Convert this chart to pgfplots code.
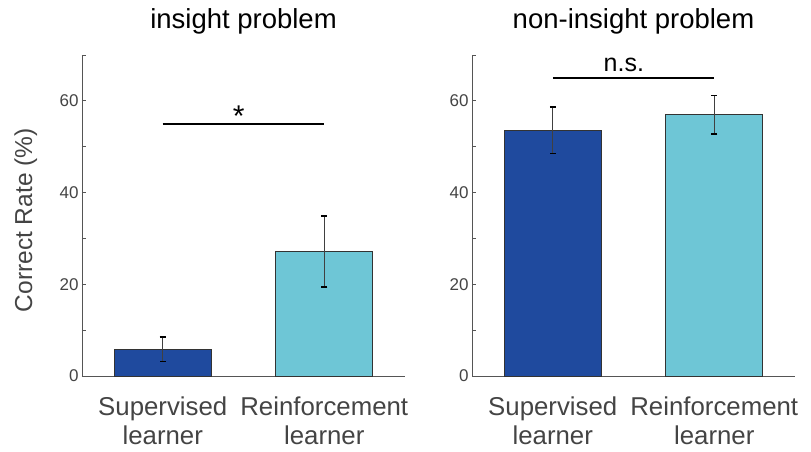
\documentclass[border=0pt]{standalone}
\usepackage{pgfplots}
\pgfplotsset{compat=1.18}
\usepackage{fontspec}
\setmainfont{Liberation Sans}
\definecolor{dblue}{HTML}{1F4A9E}
\definecolor{lblue}{HTML}{6EC6D6}
\definecolor{axgray}{HTML}{555555}
\definecolor{txtgray}{HTML}{444444}
\pgfplotsset{
  panel/.style={
    scale only axis, width=323pt, height=321pt,
    xmin=-0.5, xmax=1.5, ymin=0, ymax=70,
    axis lines=left, axis line style={-, axgray, line width=0.8pt},
    ytick={0,20,40,60}, minor ytick={10,30,50,70},
    tick align=inside, major tick length=4pt, minor tick length=4pt,
    every tick/.style={axgray, line width=0.8pt},
    xtick={0,1}, xticklabels={Supervised\\learner, Reinforcement\\learner},
    x tick style={draw=none},
    xticklabel style={align=center, font=\fontsize{25.8}{29}\selectfont, text=txtgray, yshift=-13pt},
    yticklabel style={font=\fontsize{17}{18}\selectfont, text=txtgray},
    /pgf/number format/assume math mode=true,
    ybar, bar width=0.6, bar shift=0pt,
    clip=false,
    title style={at={(0.5,1)}, anchor=base, yshift=21pt, font=\fontsize{27.5}{30}\selectfont},
    error bars/y dir=both, error bars/y explicit,
    error bars/error bar style={line width=0.9pt, black!75},
    error bars/error mark options={rotate=90, mark size=3pt, line width=1.6pt, black},
  }
}
\begin{document}
\begin{tikzpicture}
\begin{axis}[panel, title={insight problem},
  ylabel={Correct Rate (\%)},
  ylabel style={at={(axis description cs:-0.174,0.485)}, anchor=center, font=\fontsize{24.5}{28}\selectfont, text=txtgray}]
\addplot[fill=dblue, draw=black!80, line width=0.9pt] coordinates {(0,5.8) +- (0,2.65)};
\addplot[fill=lblue, draw=black!80, line width=0.9pt] coordinates {(1,27.2) +- (0,7.75)};
\addplot[sharp plot, black, line width=1.8pt, no marks, forget plot] coordinates {(0,54.9) (1,54.9)};
\node[font=\fontsize{30}{32}\selectfont, anchor=center] at (axis cs:0.47,56.6) {*};
\end{axis}
\begin{axis}[panel, xshift=390pt, title={non-insight problem}]
\addplot[fill=dblue, draw=black!80, line width=0.9pt] coordinates {(0,53.6) +- (0,5.1)};
\addplot[fill=lblue, draw=black!80, line width=0.9pt] coordinates {(1,57.0) +- (0,4.2)};
\addplot[sharp plot, black, line width=1.8pt, no marks, forget plot] coordinates {(0,64.9) (1,64.9)};
\node[font=\fontsize{25}{28}\selectfont, anchor=base] at (axis cs:0.44,66.4) {n.s.};
\end{axis}
\pgfresetboundingbox
\useasboundingbox (-82pt,-76pt) rectangle (729pt,376pt);
\end{tikzpicture}
\end{document}
